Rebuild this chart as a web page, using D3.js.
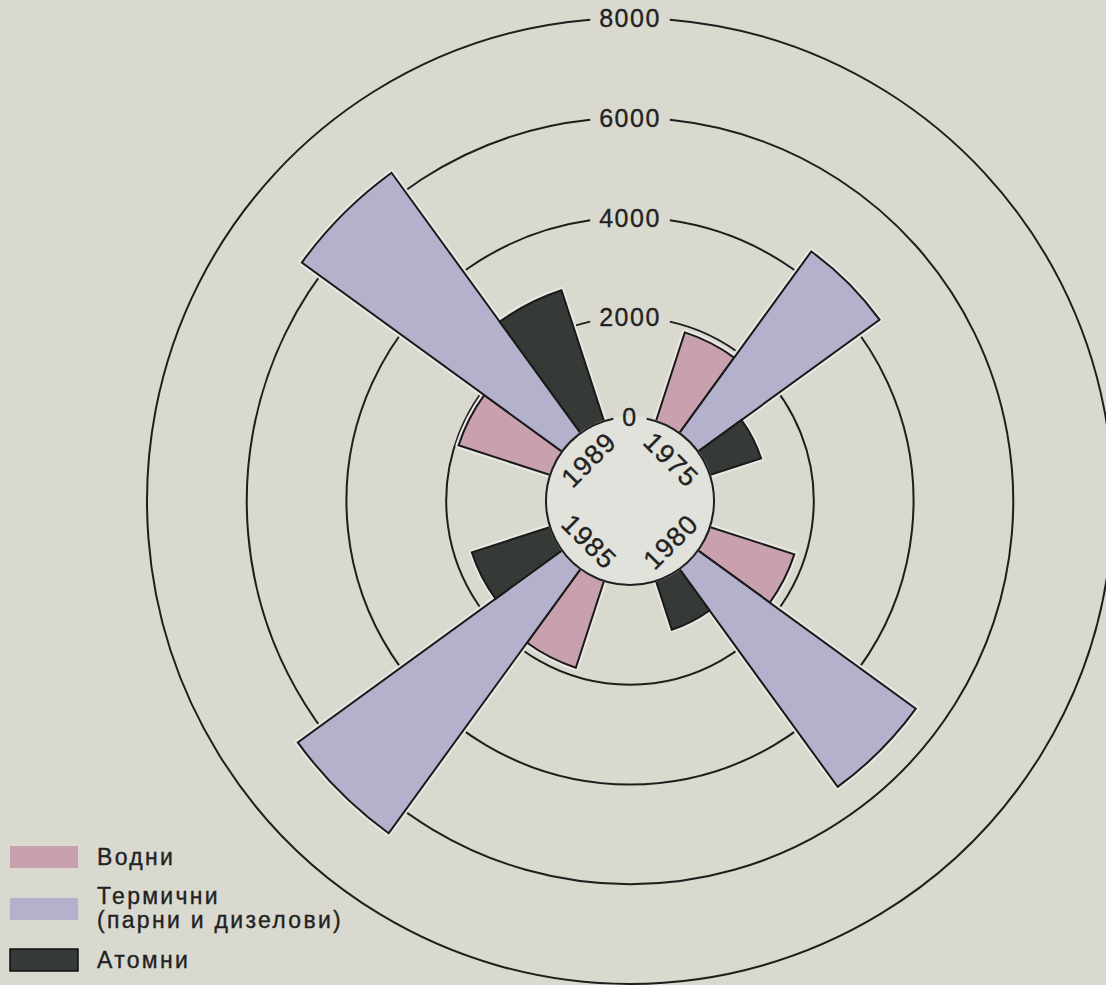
<!DOCTYPE html>
<html>
<head>
<meta charset="utf-8">
<script src="https://cdn.jsdelivr.net/npm/d3@7"></script>
<style>
  body { margin: 0; background: #d9d9d0; }
  svg { display: block; }
  text { font-family: "Liberation Sans", Arial, sans-serif; fill: #222; stroke: #222; stroke-width: 0.35; }
</style>
</head>
<body>
<svg id="chart" width="1106" height="985"></svg>
<script>
// installed capacity by type, one value per year
const years = ["1975", "1980", "1985", "1989"];
const seriesNames = ["Водни", "Термични", "Атомни"];
const hydro = [1870, 1780, 1830, 1930];
const thermal = [4500, 5400, 6550, 6450];
const nuclear = [1080, 1030, 1650, 2760];
const ringTicks = [0, 2000, 4000, 6000, 8000];
const legendLines = [["Водни"], ["Термични", "(парни и дизелови)"], ["Атомни"]];
const colors = ["#c9a1ae", "#b3b1cc", "#363a37"];

const svg = d3.select("#chart");
const cx = 630, cy = 501;

// one row per bar
const bars = [];
years.forEach((year, i) => {
  [hydro, thermal, nuclear].forEach((vals, j) => {
    bars.push({ year, series: seriesNames[j], value: vals[i] });
  });
});

// groups sit on the diagonals, bars inside each group side by side
const angle = d3.scaleBand().domain(years).range([0, 2 * Math.PI])
  .paddingInner(0.4).paddingOuter(0.2);
const angleInner = d3.scaleBand().domain(seriesNames).range([0, angle.bandwidth()]);
const r = d3.scaleLinear().domain([0, 8000]).range([84, 483]);
const color = d3.scaleOrdinal().domain(seriesNames).range(colors);

const g = svg.append("g").attr("transform", "translate(" + cx + "," + cy + ")");
const ringG = g.append("g");
const barG = g.append("g");
const hubG = g.append("g");
const labelG = g.append("g");

// ring labels first so the gaps can be measured
function ring(t, parent) {
  const rr = r(t);
  const label = labelG.append("text")
    .attr("x", 0).attr("y", -rr)
    .attr("text-anchor", "middle")
    .attr("dominant-baseline", "central")
    .attr("font-size", 25)
    .attr("letter-spacing", 1.5)
    .text(t);
  const w = label.node().getComputedTextLength();
  const half = Math.asin(Math.min(1, (w / 2 + 9) / rr));
  parent.append("path")
    .attr("d", d3.arc().innerRadius(rr).outerRadius(rr)
      .startAngle(half).endAngle(2 * Math.PI - half)())
    .attr("fill", "none")
    .attr("stroke", "#1e1e1e")
    .attr("stroke-width", 2);
}

ringTicks.filter(t => t > 0).forEach(t => ring(t, ringG));

const arc = d3.arc()
  .innerRadius(r(0))
  .outerRadius(d => r(d.value))
  .startAngle(d => angle(d.year) + angleInner(d.series))
  .endAngle(d => angle(d.year) + angleInner(d.series) + angleInner.bandwidth());

// light halo under the bars, then the bars
barG.selectAll(".halo")
  .data(bars)
  .enter().append("path")
  .attr("class", "halo")
  .attr("d", arc)
  .attr("fill", "#e9e9e3")
  .attr("stroke", "#e9e9e3")
  .attr("stroke-width", 6)
  .attr("stroke-linejoin", "round");

barG.selectAll(".bar")
  .data(bars)
  .enter().append("path")
  .attr("class", "bar")
  .attr("d", arc)
  .attr("fill", d => color(d.series))
  .attr("stroke", "#1a1a1a")
  .attr("stroke-width", 2)
  .attr("stroke-linejoin", "miter");

// hub: pale disc, its edge is the 0 ring
hubG.append("circle").attr("r", r(0) + 1).attr("fill", "#e2e2dc");
ring(0, hubG);

years.forEach(year => {
  const a = angle(year) + angle.bandwidth() / 2;
  const deg = a * 180 / Math.PI;
  const flip = deg > 90 && deg < 270;
  labelG.append("text")
    .attr("transform", "rotate(" + deg + ") translate(0," + (-58) + ")" + (flip ? " rotate(180)" : ""))
    .attr("text-anchor", "middle")
    .attr("dominant-baseline", "central")
    .attr("font-size", 27)
    .attr("letter-spacing", 1.2)
    .text(year);
});

// legend, bottom left
const legend = svg.append("g");
const rowY = [846, 898, 949];
seriesNames.forEach((name, i) => {
  legend.append("rect")
    .attr("x", 10).attr("y", rowY[i])
    .attr("width", 68).attr("height", 22)
    .attr("fill", colors[i])
    .attr("stroke", i === 2 ? "#111" : "none")
    .attr("stroke-width", 1.5);
  legendLines[i].forEach((line, k) => {
    legend.append("text")
      .attr("x", 97)
      .attr("y", rowY[i] + 19 + k * 24 + (legendLines[i].length > 1 ? -13 : 0))
      .attr("font-size", 23)
      .attr("letter-spacing", 2.3)
      .text(line);
  });
});
</script>
</body>
</html>
